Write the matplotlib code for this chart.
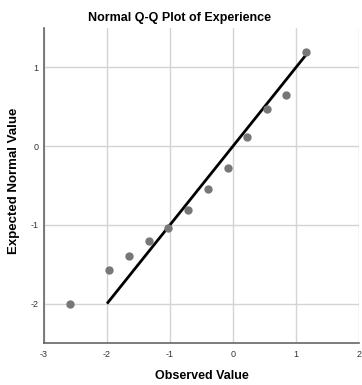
import matplotlib
matplotlib.use("Agg")
import matplotlib.pyplot as plt

plt.rcParams.update({
    "font.family": ["Liberation Sans", "DejaVu Sans"],
    "font.size": 7,
})

# observed (standardized) values vs expected normal quantiles
observed = [-2.59, -1.97, -1.65, -1.33, -1.03, -0.71, -0.40, -0.08, 0.22, 0.54, 0.84, 1.16]
expected = [-2.01, -1.57, -1.39, -1.20, -1.04, -0.81, -0.54, -0.28, 0.12, 0.47, 0.65, 1.20]
# reference line y = x over the observed span
line_x = [-2.0, 1.2]
line_y = [-2.0, 1.2]

x_ticks = [-3, -2, -1, 0, 1, 2]
y_ticks = [-2, -1, 0, 1]

W, H = 362, 385
fig = plt.figure(figsize=(W / 100, H / 100), dpi=100)
ax = fig.add_axes([44 / W, 1 - 343 / H, 315 / W, 315 / H])

ax.plot(line_x, line_y, color="black", lw=2.0, solid_capstyle="butt", zorder=3)
ax.plot(observed, expected, "o", ms=5, color="#777777", mec="#777777", zorder=4)

ax.set_xlim(-3, 2)
ax.set_ylim(-2.5, 1.5)
ax.set_xticks(x_ticks)
ax.set_yticks(y_ticks)
ax.set_xticklabels([str(t) for t in x_ticks])
ax.set_yticklabels([str(t) for t in y_ticks])
ax.tick_params(length=0, labelsize=6.5, colors="#333333")
ax.tick_params(axis="x", pad=5)
ax.tick_params(axis="y", pad=4)

ax.grid(True, color="#d4d4d4", lw=1.0, zorder=0)
ax.set_axisbelow(True)
for sp in ("top", "right"):
    ax.spines[sp].set_visible(False)
for sp in ("left", "bottom"):
    ax.spines[sp].set_color("#666666")
    ax.spines[sp].set_linewidth(1.2)

fig.text(180 / W, 1 - 18 / H, "Normal Q-Q Plot of Experience", fontsize=9,
         fontweight="bold", ha="center", va="center")
fig.text(202 / W, 1 - 376 / H, "Observed Value", fontsize=9,
         fontweight="bold", ha="center", va="center")
fig.text(14 / W, 1 - 181 / H, "Expected Normal Value", fontsize=9.5,
         fontweight="bold", ha="center", va="center", rotation=90)

fig.savefig("out.png", dpi=100)
